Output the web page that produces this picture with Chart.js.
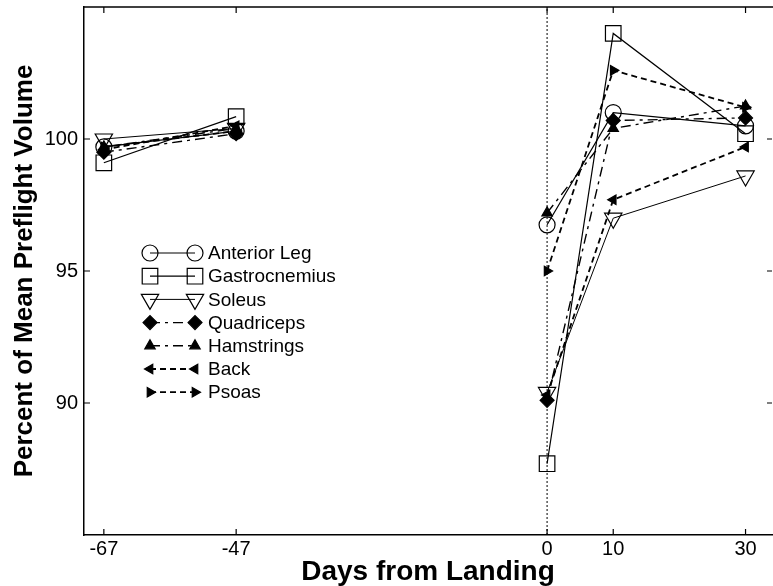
<!DOCTYPE html>
<html>
<head>
<meta charset="utf-8">
<script src="https://cdn.jsdelivr.net/npm/chart.js@4.4.0/dist/chart.umd.min.js"></script>
<style>
html, body { margin: 0; padding: 0; background: #fff; }
#wrap { width: 773px; height: 586px; }
</style>
</head>
<body>
<div id="wrap"><canvas id="myChart"></canvas></div>
<script>
// days relative to landing, and the tick marks shown on each axis
var days = [-67, -47, 0, 10, 30];
var xTicks = [-67, -47, 0, 10, 30];
var yTicks = [90, 95, 100];

// percent of mean preflight volume, one array per muscle
var anteriorLeg   = [99.7, 100.3, 96.75, 101.0, 100.5];
var gastrocnemius = [99.1, 100.85, 87.7, 104.0, 100.2];
var soleus        = [100.0, 100.4, 90.4, 97.0, 98.6];
var quadriceps    = [99.5, 100.2, 90.1, 100.7, 100.8];
var hamstrings    = [99.7, 100.4, 97.2, 100.4, 101.25];
var back          = [99.6, 100.5, 90.3, 97.7, 99.7];
var psoas         = [99.7, 100.3, 95.0, 102.6, 101.2];

var FONT = "'Liberation Sans', Arial, Helvetica, sans-serif";

function pts(vals) {
    return vals.map(function (v, i) { return {x: days[i], y: v}; });
}
// no line between the preflight and the postflight measurements
var gap = { borderColor: function (c) { return c.p0DataIndex === 1 ? 'rgba(0,0,0,0)' : undefined; } };

function series(label, vals, style, rot, r, filled, dash, width) {
    return {
        label: label,
        data: pts(vals),
        borderColor: '#000',
        borderWidth: width,
        borderDash: dash,
        backgroundColor: filled ? '#000' : 'rgba(0,0,0,0)',
        pointStyle: style,
        rotation: rot,
        pointRadius: r,
        pointBorderWidth: 1.2,
        pointBorderColor: '#000',
        pointBackgroundColor: filled ? '#000' : 'rgba(0,0,0,0)',
        segment: gap,
        inLegend: true,
        tension: 0
    };
}

var datasets = [
    series('Anterior Leg', anteriorLeg, 'circle', 0, 8, false, [], 1.2),
    series('Gastrocnemius', gastrocnemius, 'rect', 0, 11, false, [], 1.2),
    series('Soleus', soleus, 'triangle', 180, 10, false, [], 1),
    series('Quadriceps', quadriceps, 'rectRot', 0, 7, true, [10, 5, 3, 5], 1.4),
    series('Hamstrings', hamstrings, 'triangle', 0, 6, true, [10, 5, 3, 5], 1.4),
    series('Back', back, 'triangle', -90, 5.5, true, [6, 4], 1.8),
    series('Psoas', psoas, 'triangle', 90, 5.5, true, [6, 4], 1.8),
    {
        // dotted reference line at landing day
        label: 'landing',
        data: [{x: 0, y: 85}, {x: 0, y: 105}],
        borderColor: '#000',
        borderWidth: 1,
        borderDash: [2, 2],
        pointRadius: 0
    }
];

// inward ticks on all four sides and the top frame line, like the original figure
var frame = {
    id: 'frame',
    afterDraw: function (chart) {
        var ctx = chart.ctx, a = chart.chartArea;
        var xs = chart.scales.x, ys = chart.scales.y;
        ctx.save();
        ctx.strokeStyle = '#000';
        ctx.lineWidth = 1.5;
        ctx.beginPath();
        ctx.moveTo(a.left, a.top);
        ctx.lineTo(chart.width, a.top);
        ctx.stroke();
        ctx.lineWidth = 1.2;
        ctx.beginPath();
        xTicks.forEach(function (v) {
            var px = xs.getPixelForValue(v);
            ctx.moveTo(px, a.bottom); ctx.lineTo(px, a.bottom - 6);
            ctx.moveTo(px, a.top); ctx.lineTo(px, a.top + 6);
        });
        yTicks.forEach(function (v) {
            var py = ys.getPixelForValue(v);
            ctx.moveTo(a.left, py); ctx.lineTo(a.left + 6, py);
            ctx.moveTo(a.right, py); ctx.lineTo(a.right - 5, py);
        });
        ctx.stroke();
        ctx.restore();
    }
};

// legend drawn inside the plot, marker at both ends of the line sample
var innerLegend = {
    id: 'innerLegend',
    afterDraw: function (chart) {
        var ctx = chart.ctx;
        var x1 = 150, x2 = 195, tx = 208, y0 = 253, step = 23.2;
        ctx.save();
        chart.data.datasets.filter(function (d) { return d.inLegend; }).forEach(function (d, i) {
            var y = y0 + i * step;
            ctx.strokeStyle = '#000';
            ctx.lineWidth = d.borderWidth;
            ctx.setLineDash(d.borderDash);
            ctx.beginPath();
            ctx.moveTo(x1, y); ctx.lineTo(x2, y);
            ctx.stroke();
            ctx.setLineDash([]);
            ctx.fillStyle = d.pointBackgroundColor;
            ctx.lineWidth = d.pointBorderWidth;
            [x1, x2].forEach(function (px) {
                Chart.helpers.drawPoint(ctx, {
                    pointStyle: d.pointStyle, rotation: d.rotation,
                    radius: d.pointRadius, borderWidth: d.pointBorderWidth
                }, px, y);
            });
            ctx.fillStyle = '#000';
            ctx.font = '19px ' + FONT;
            ctx.textBaseline = 'middle';
            ctx.textAlign = 'left';
            ctx.fillText(d.label, tx, y + 1);
        });
        ctx.restore();
    }
};

function noPad(s) {
    s.paddingTop = 0; s.paddingBottom = 0; s.paddingLeft = 0; s.paddingRight = 0;
}

var ctx = document.getElementById('myChart').getContext('2d');
var chart = new Chart(ctx, {
    type: 'line',
    data: { datasets: datasets },
    options: {
        responsive: true,
        maintainAspectRatio: false,
        animation: false,
        devicePixelRatio: 1,
        layout: { autoPadding: false, padding: { top: 7, right: 1, left: 0, bottom: 0 } },
        plugins: { legend: { display: false }, tooltip: { enabled: false } },
        scales: {
            x: {
                type: 'linear',
                min: -70,
                max: 34,
                afterBuildTicks: function (s) { s.ticks = xTicks.map(function (v) { return {value: v}; }); },
                afterFit: function (s) { s.height = 51; noPad(s); },
                ticks: { color: '#000', font: { size: 20, family: FONT }, padding: 2, maxRotation: 0, autoSkip: false },
                grid: { display: false, drawTicks: false },
                border: { display: true, color: '#000', width: 1.5 },
                title: { display: true, text: 'Days from Landing', color: '#000',
                         font: { size: 28, weight: 'bold', family: FONT }, padding: { top: 0, bottom: -3 } }
            },
            y: {
                min: 85,
                max: 105,
                afterBuildTicks: function (s) { s.ticks = yTicks.map(function (v) { return {value: v}; }); },
                afterFit: function (s) { s.width = 84; noPad(s); },
                ticks: { color: '#000', font: { size: 20, family: FONT }, padding: 6 },
                grid: { display: false, drawTicks: false },
                border: { display: true, color: '#000', width: 1.5 },
                title: { display: true, text: 'Percent of Mean Preflight Volume', color: '#000',
                         font: { size: 26, weight: 'bold', family: FONT }, padding: { top: 9, bottom: 0 } }
            }
        }
    },
    plugins: [frame, innerLegend]
});
</script>
</body>
</html>
